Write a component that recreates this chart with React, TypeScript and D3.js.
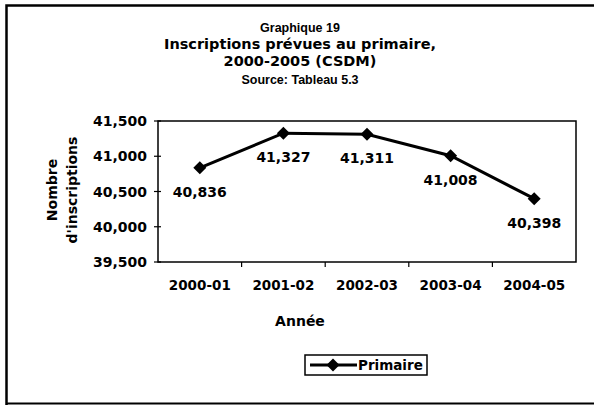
import React from "react";
import * as d3 from "d3";

const categories = ["2000-01", "2001-02", "2002-03", "2003-04", "2004-05"];
const primaire = [40836, 41327, 41311, 41008, 40398];
const yTicks = [39500, 40000, 40500, 41000, 41500];
const titleLines = ["Graphique 19", "Inscriptions prévues au primaire,", "2000-2005 (CSDM)", "Source: Tableau 5.3"];

export default function App() {
  const W = 594, H = 405;
  const left = 158, right = 576, top = 121, bottom = 262;
  const x = d3.scaleBand<string>().domain(categories).range([left, right]);
  const y = d3.scaleLinear().domain([39500, 41500]).range([bottom, top]);
  const fmt = d3.format(",");
  const wide = "DejaVu Sans, sans-serif";
  const arial = "Liberation Sans, Arial, sans-serif";
  const pts = categories.map((c, i) => [x(c)! + x.bandwidth() / 2, y(primaire[i])] as [number, number]);
  const line = d3.line()(pts) || "";
  const diamond = (cx: number, cy: number, r: number) => `M${cx},${cy - r}L${cx + r},${cy}L${cx},${cy + r}L${cx - r},${cy}Z`;
  const titleY = [32, 49, 66, 84];
  return (
    <svg width={W} height={H} style={{ position: "absolute", left: 0, top: 0, background: "#fff" }} fontFamily={wide} fontWeight={700}>
      <rect x={0} y={0} width={W} height={H} fill="#fff" />
      <path d={`M6.5,${H}V5.5H${W}`} fill="none" stroke="#000" strokeWidth={2.5} />
      <line x1={6} x2={W} y1={403.5} y2={403.5} stroke="#000" strokeWidth={2} />
      {titleLines.map((t, i) => {
        const big = i === 1 || i === 2;
        return (
          <text key={i} x={300} y={titleY[i]} textAnchor="middle" fontSize={big ? 14.5 : 12.5}
            fontFamily={big ? wide : arial} fontWeight={700} fill="#000">{t}</text>
        );
      })}
      <rect x={left} y={top} width={right - left} height={bottom - top} fill="none" stroke="#000" strokeWidth={1.5} />
      {yTicks.map(v => (
        <g key={v}>
          <line x1={left - 4} x2={left + 3} y1={y(v)} y2={y(v)} stroke="#000" strokeWidth={1.2} />
          <text x={left - 11} y={y(v) + 5} textAnchor="end" fontSize={14}>{fmt(v)}</text>
        </g>
      ))}
      {categories.map((c, i) => (
        <g key={c}>
          {i > 0 && <line x1={x(c)!} x2={x(c)!} y1={bottom} y2={bottom + 5} stroke="#000" strokeWidth={1.2} />}
          <text x={x(c)! + x.bandwidth() / 2} y={290} textAnchor="middle" fontSize={13.5}>{c}</text>
        </g>
      ))}
      <text x={300} y={326} textAnchor="middle" fontSize={14}>Année</text>
      <g transform="translate(57,190) rotate(-90)">
        <text x={0} y={0} textAnchor="middle" fontSize={14}>Nombre</text>
        <text x={0} y={19.5} textAnchor="middle" fontSize={14}>d'inscriptions</text>
      </g>
      <path d={line} fill="none" stroke="#000" strokeWidth={3} />
      {pts.map((p, i) => (
        <g key={i}>
          <path d={diamond(p[0], p[1], 6.5)} fill="#000" />
          <text x={p[0]} y={p[1] + 29} textAnchor="middle" fontSize={14}>{fmt(primaire[i])}</text>
        </g>
      ))}
      <rect x={305} y={355} width={122} height={20} fill="#fff" stroke="#000" strokeWidth={1.5} />
      <line x1={310} x2={357} y1={365} y2={365} stroke="#000" strokeWidth={3} />
      <path d={diamond(333, 365, 6.5)} fill="#000" />
      <text x={358} y={370} fontSize={13.5}>Primaire</text>
    </svg>
  );
}
